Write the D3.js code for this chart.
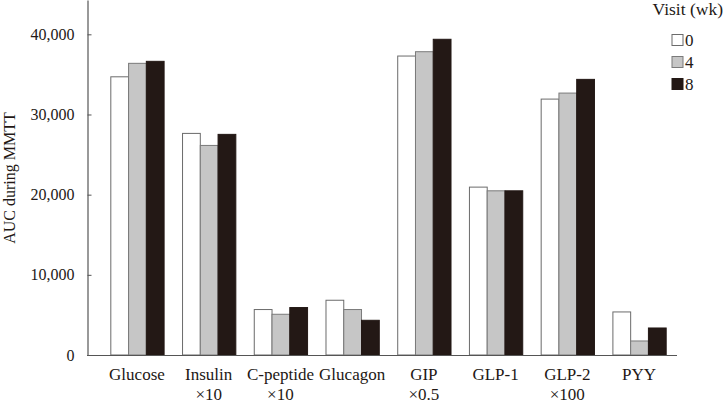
<!DOCTYPE html>
<html>
<head>
<meta charset="utf-8">
<script src="https://cdn.jsdelivr.net/npm/d3@7"></script>
<style>
  html, body { margin: 0; padding: 0; background: #fff; }
  svg { display: block; }
  text { font-family: "Liberation Serif", "DejaVu Serif", serif; fill: #231815; }
</style>
</head>
<body>
<svg id="chart" width="724" height="405"></svg>
<script>
const categories = ["Glucose", "Insulin", "C-peptide", "Glucagon", "GIP", "GLP-1", "GLP-2", "PYY"];
const scaleNotes = ["", "×10", "×10", "", "×0.5", "", "×100", ""];
const visits = ["0", "4", "8"];
const week0 = [34700, 27640, 5670, 6830, 37290, 20940, 31920, 5370];
const week4 = [36380, 26140, 5080, 5670, 37830, 20480, 32670, 1750];
const week8 = [36630, 27520, 5920, 4330, 39380, 20480, 34380, 3370];
const yTicks = [0, 10000, 20000, 30000, 40000];
const yLabel = "AUC during MMTT";
const legendTitle = "Visit (wk)";

const series = [week0, week4, week8];
const fills = ["#ffffff", "#c6c6c6", "#231815"];
const strokes = ["#6b6b6b", "#7a7a7a", "#231815"];

const svg = d3.select("#chart");
const axisX = 87, baseY = 355, axisEnd = 677;

const y = d3.scaleLinear().domain([0, 44280]).range([baseY, 0]);
const x0 = d3.scaleBand().domain(categories).range([axisX, 689]).paddingInner(0.257).paddingOuter(0.325);
const x1 = d3.scaleBand().domain(visits).range([0, x0.bandwidth()]).padding(0);

// bars
const groups = svg.append("g").selectAll("g").data(categories).join("g")
  .attr("transform", d => `translate(${x0(d)},0)`);
groups.selectAll("rect")
  .data((c, i) => visits.map((v, k) => ({ v, k, val: series[k][i] })))
  .join("rect")
  .attr("x", d => x1(d.v) + 0.5)
  .attr("y", d => y(d.val))
  .attr("width", x1.bandwidth())
  .attr("height", d => baseY - y(d.val))
  .attr("fill", d => fills[d.k])
  .attr("stroke", d => strokes[d.k])
  .attr("stroke-width", 1);

// y axis
const yAxis = d3.axisLeft(y).tickValues(yTicks).tickFormat(d3.format(",")).tickSizeInner(-4).tickSizeOuter(0).tickPadding(13);
const gy = svg.append("g").attr("transform", `translate(${axisX + 0.5},0)`).call(yAxis);
gy.select(".domain").attr("stroke", "#555").attr("stroke-width", 1.2);
gy.selectAll(".tick line").attr("stroke", "#555");
gy.selectAll(".tick text").attr("font-size", 16).attr("fill", "#231815")
  .attr("font-family", '"Liberation Serif", serif');

// x axis baseline
svg.append("line").attr("x1", axisX).attr("x2", axisEnd).attr("y1", baseY + 0.5).attr("y2", baseY + 0.5)
  .attr("stroke", "#555").attr("stroke-width", 1.2);

// x labels
const xl = svg.append("g").selectAll("text").data(categories).join("text")
  .attr("text-anchor", "middle").attr("font-size", 17)
  .attr("transform", d => `translate(${x0(d) + x0.bandwidth() / 2},0)`);
xl.append("tspan").attr("x", 0).attr("y", 380).text(d => d);
xl.append("tspan").attr("x", 0).attr("y", 400).text((d, i) => scaleNotes[i]);

// y label
svg.append("text").attr("transform", "translate(15,178) rotate(-90)")
  .attr("text-anchor", "middle").attr("font-size", 16).text(yLabel);

// legend
svg.append("text").attr("x", 723).attr("y", 15).attr("text-anchor", "end").attr("font-size", 17.5).text(legendTitle);
const lg = svg.append("g").selectAll("g").data(visits).join("g")
  .attr("transform", (d, i) => `translate(672,${40 + i * 22})`);
lg.append("rect").attr("x", 0).attr("y", -5.5).attr("width", 11).attr("height", 11)
  .attr("fill", (d, i) => fills[i]).attr("stroke", (d, i) => strokes[i]);
lg.append("text").attr("x", 13).attr("y", 6).attr("font-size", 17).text(d => d);
</script>
</body>
</html>
